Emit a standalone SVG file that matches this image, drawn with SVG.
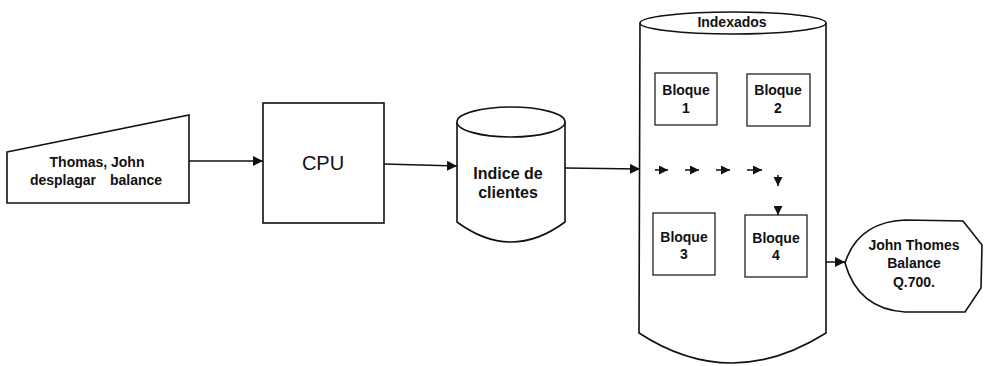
<svg xmlns="http://www.w3.org/2000/svg" width="985" height="366" viewBox="0 0 985 366">
  <defs>
    <marker id="arrow" viewBox="0 0 10 10" refX="10" refY="5" markerWidth="10" markerHeight="10" markerUnits="userSpaceOnUse" orient="auto">
      <path d="M0,0 L10,5 L0,10 Z" fill="#111"/>
    </marker>
    <marker id="arrowSmall" viewBox="0 0 10 10" refX="10" refY="5" markerWidth="10" markerHeight="9" markerUnits="userSpaceOnUse" orient="auto">
      <path d="M0,0 L10,5 L0,10 Z" fill="#111"/>
    </marker>
  </defs>
  <style>
    .shape { fill: #fff; stroke: #111; stroke-width: 1.6; }
    .box { fill: #fff; stroke: #222; stroke-width: 1.3; }
    .line { fill: none; stroke: #111; stroke-width: 1.5; }
    .lbl { font-family: "Liberation Sans", Arial, sans-serif; font-weight: bold; fill: #111; text-anchor: middle; }
    .cpu { font-family: "Liberation Sans", Arial, sans-serif; font-size: 20px; fill: #111; text-anchor: middle; }
  </style>
  <rect width="985" height="366" fill="#fff"/>

  <!-- manual input -->
  <g id="input">
    <path class="shape" d="M7,152 L189,115 L189,203 L7,203 Z"/>
    <text class="lbl" font-size="14" x="97" y="167">Thomas, John</text>
    <text class="lbl" font-size="14" y="185"><tspan x="63">desplagar</tspan><tspan x="136">balance</tspan></text>
  </g>

  <!-- processor -->
  <g id="cpu">
    <rect class="shape" x="263" y="103" width="121" height="120"/>
    <text class="cpu" x="323" y="170">CPU</text>
  </g>

  <!-- client index store -->
  <g id="indice">
    <path class="shape" d="M457,122 L457,222 Q511,262 565,222 L565,122"/>
    <ellipse class="shape" cx="511" cy="122" rx="54" ry="15"/>
    <text class="lbl" font-size="16" x="508" y="179">Indice de</text>
    <text class="lbl" font-size="16" x="508" y="198">clientes</text>
  </g>

  <!-- indexed file store -->
  <g id="indexados">
    <path class="shape" d="M640,23 L639,333 Q731,393 826,333 L826,23"/>
    <ellipse class="shape" cx="733" cy="23" rx="93" ry="11"/>
    <text class="lbl" font-size="14" x="732" y="27">Indexados</text>
  </g>

  <g id="bloque1">
    <rect class="box" x="655" y="73" width="62" height="52"/>
    <text class="lbl" font-size="14" x="686" y="95">Bloque</text>
    <text class="lbl" font-size="14" x="686" y="113">1</text>
  </g>
  <g id="bloque2">
    <rect class="box" x="747" y="74" width="63" height="52"/>
    <text class="lbl" font-size="14" x="778" y="95">Bloque</text>
    <text class="lbl" font-size="14" x="778" y="113">2</text>
  </g>
  <g id="bloque3">
    <rect class="box" x="653" y="213" width="62" height="62"/>
    <text class="lbl" font-size="14" x="684" y="242">Bloque</text>
    <text class="lbl" font-size="14" x="684" y="259">3</text>
  </g>
  <g id="bloque4">
    <rect class="box" x="745" y="215" width="62" height="62"/>
    <text class="lbl" font-size="14" x="776" y="243">Bloque</text>
    <text class="lbl" font-size="14" x="776" y="260">4</text>
  </g>

  <!-- display output -->
  <g id="salida">
    <path class="shape" d="M845,263 Q858,222 905,220 L963,221 L982,245 L981,288 L965,312 L905,312 Q858,309 845,263 Z"/>
    <text class="lbl" font-size="14" x="914" y="250">John Thomes</text>
    <text class="lbl" font-size="14" x="914" y="268">Balance</text>
    <text class="lbl" font-size="14" x="914" y="287">Q.700.</text>
  </g>

  <!-- connectors -->
  <g id="connectors">
    <line class="line" x1="189" y1="161" x2="263" y2="161" marker-end="url(#arrow)"/>
    <line class="line" x1="384" y1="164" x2="457" y2="166" marker-end="url(#arrow)"/>
    <line class="line" x1="565" y1="168" x2="640" y2="169" marker-end="url(#arrow)"/>
    <line class="line" x1="826" y1="262" x2="845" y2="262" marker-end="url(#arrow)"/>
    <line class="line" x1="655" y1="170" x2="668" y2="170" marker-end="url(#arrowSmall)"/>
    <line class="line" x1="685" y1="170" x2="699" y2="170" marker-end="url(#arrowSmall)"/>
    <line class="line" x1="716" y1="170" x2="730" y2="170" marker-end="url(#arrowSmall)"/>
    <line class="line" x1="747" y1="170" x2="762" y2="170" marker-end="url(#arrowSmall)"/>
    <line class="line" x1="778" y1="175" x2="778" y2="186" marker-end="url(#arrowSmall)"/>
    <line class="line" x1="778" y1="206" x2="778" y2="215" marker-end="url(#arrowSmall)"/>
  </g>
</svg>
